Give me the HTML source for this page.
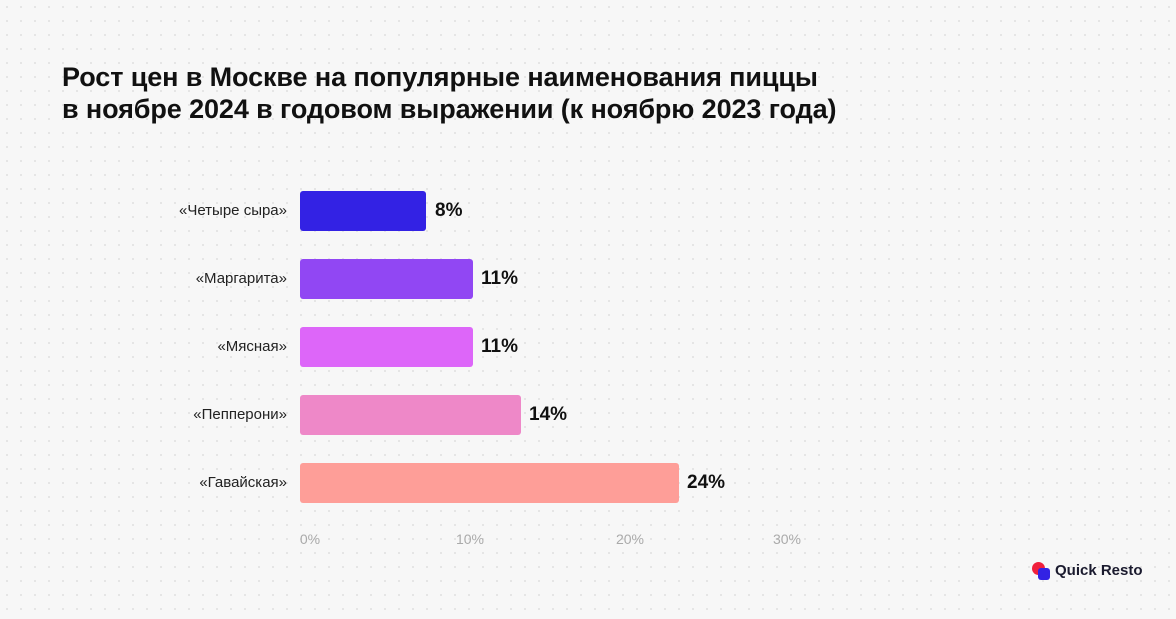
<!DOCTYPE html>
<html><head><meta charset="utf-8"><style>
body{margin:0;width:1176px;height:619px;overflow:hidden;background:#f7f7f7;font-family:"Liberation Sans",sans-serif;position:relative;
background-image:radial-gradient(circle,#e4e4e4 1px,transparent 1.3px);background-size:14px 14px;}
.t{position:absolute;left:62px;top:61px;font-size:27px;font-weight:bold;line-height:32px;color:#111;letter-spacing:-0.1px}
.b{position:absolute;left:300px;height:40px;border-radius:3px}
.l{position:absolute;right:889px;font-size:15px;color:#222;line-height:40px;white-space:nowrap}
.v{position:absolute;font-size:19px;color:#111;line-height:40px;font-weight:bold}
.x{position:absolute;top:531px;font-size:14px;color:#aaa;transform:translateX(-50%)}
</style></head><body>
<div class="t">Рост цен в Москве на популярные наименования пиццы<br>в ноябре 2024 в годовом выражении (к ноябрю 2023 года)</div>
<div class="l" style="top:191px">«Четыре сыра»</div><div class="b" style="top:191px;width:126px;background:#3322e4"></div><div class="v" style="top:191px;left:435px">8%</div>
<div class="l" style="top:259px">«Маргарита»</div><div class="b" style="top:259px;width:173px;background:#9147f3"></div><div class="v" style="top:259px;left:481px">11%</div>
<div class="l" style="top:327px">«Мясная»</div><div class="b" style="top:327px;width:173px;background:#dd66f9"></div><div class="v" style="top:327px;left:481px">11%</div>
<div class="l" style="top:395px">«Пепперони»</div><div class="b" style="top:395px;width:221px;background:#ee88c8"></div><div class="v" style="top:395px;left:529px">14%</div>
<div class="l" style="top:463px">«Гавайская»</div><div class="b" style="top:463px;width:379px;background:#fe9e98"></div><div class="v" style="top:463px;left:687px">24%</div>
<div class="x" style="left:310px">0%</div><div class="x" style="left:470px">10%</div><div class="x" style="left:630px">20%</div><div class="x" style="left:787px">30%</div>
<div style="position:absolute;left:1032px;top:562px;width:13px;height:13px;border-radius:50%;background:#f0203c"></div>
<div style="position:absolute;left:1038px;top:568px;width:12px;height:12px;border-radius:3px;background:#3322e4"></div>
<div style="position:absolute;left:1055px;top:562px;font-size:15px;font-weight:bold;color:#1a1a2e">Quick Resto</div>
</body></html>
